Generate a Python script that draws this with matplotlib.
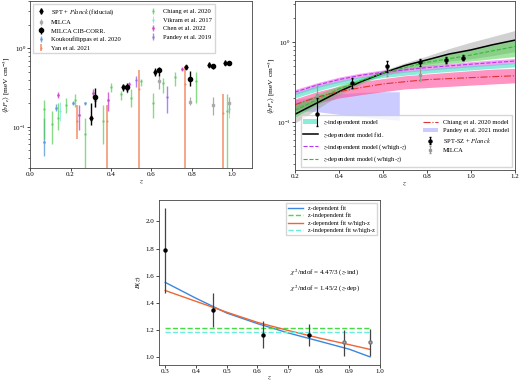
import numpy as np
import matplotlib
matplotlib.use("Agg")
import matplotlib.pyplot as plt

plt.rcParams.update({
    'font.family': 'serif',
    'font.serif': ['Liberation Serif', 'DejaVu Serif'],
    'mathtext.fontset': 'stix',
    'font.size': 5,
    'axes.linewidth': 0.6,
    'axes.edgecolor': '#444444',
    'xtick.major.width': 0.5, 'ytick.major.width': 0.5,
    'xtick.minor.width': 0.4, 'ytick.minor.width': 0.4,
    'xtick.major.size': 2, 'ytick.major.size': 2,
    'xtick.minor.size': 1.2, 'ytick.minor.size': 1.2,
    'xtick.labelsize': 5, 'ytick.labelsize': 5,
    'axes.labelsize': 5.3,
    'legend.fontsize': 4.7,
})

# ---------------- top-left data ----------------
spt_z = [0.30, 0.46, 0.62, 0.77, 0.885, 0.965]
spt_y = [0.13, 0.32, 0.50, 0.58, 0.62, 0.66]
spt_lo = [0.105, 0.29, 0.45, 0.55, 0.59, 0.62]
spt_hi = [0.20, 0.35, 0.56, 0.62, 0.67, 0.71]

mcib_z = [0.32, 0.48, 0.64, 0.79, 0.905, 0.985]
mcib_y = [0.24, 0.32, 0.53, 0.41, 0.59, 0.66]
mcib_lo = [0.18, 0.28, 0.45, 0.33, 0.55, 0.62]
mcib_hi = [0.31, 0.36, 0.58, 0.51, 0.63, 0.70]

milca_z = [0.32, 0.48, 0.64, 0.79, 0.905, 0.985]
milca_y = [0.22, 0.30, 0.38, 0.21, 0.19, 0.20]
milca_lo = [0.18, 0.27, 0.30, 0.19, 0.14, 0.15]
milca_hi = [0.27, 0.34, 0.44, 0.24, 0.24, 0.24]

kouk_z = [0.07, 0.13, 0.21, 0.27]
kouk_y = [0.064, 0.176, 0.20, 0.20]
kouk_lo = [0.043, 0.16, 0.19, 0.19]
kouk_hi = [0.13, 0.195, 0.215, 0.21]

yan_z = [0.23, 0.38, 0.54, 0.765, 0.955]
yan_y = [0.12, 0.12, 0.30, 0.35, 0.15]
yan_lo = [0.07, 0.005, 0.005, 0.005, 0.005]
yan_hi = [0.19, 0.19, 0.53, 0.60, 0.26]

chiang_z = [0.07, 0.11, 0.14, 0.18, 0.22, 0.27, 0.36, 0.40, 0.45, 0.50, 0.55, 0.61, 0.66, 0.72, 0.82, 0.975]
chiang_y = [0.17, 0.11, 0.13, 0.19, 0.22, 0.08, 0.12, 0.32, 0.26, 0.23, 0.38, 0.20, 0.36, 0.43, 0.38, 0.16]
chiang_lo = [0.07, 0.06, 0.09, 0.15, 0.18, 0.005, 0.06, 0.28, 0.22, 0.18, 0.33, 0.13, 0.27, 0.33, 0.20, 0.005]
chiang_hi = [0.22, 0.16, 0.20, 0.23, 0.26, 0.13, 0.19, 0.36, 0.29, 0.30, 0.41, 0.27, 0.42, 0.50, 0.50, 0.26]

vikram_z = [0.15, 0.985]
vikram_y = [0.16, 0.17]
vikram_lo = [0.12, 0.13]
vikram_hi = [0.21, 0.21]

chen_z = [0.14, 0.24, 0.31, 0.385, 0.49, 0.75]
chen_y = [0.255, 0.14, 0.27, 0.22, 0.35, 0.55]
chen_lo = [0.23, 0.09, 0.24, 0.16, 0.33, 0.52]
chen_hi = [0.28, 0.19, 0.30, 0.28, 0.37, 0.58]

pandey_z = [0.525, 0.68]
pandey_y = [0.40, 0.24]
pandey_lo = [0.32, 0.15]
pandey_hi = [0.45, 0.33]

# ---------------- top-right data ----------------
rspt_y = [0.125, 0.31, 0.50, 0.56, 0.60, 0.64]
rspt_lo = [0.09, 0.27, 0.42, 0.50, 0.55, 0.59]
rspt_hi = [0.20, 0.36, 0.58, 0.62, 0.66, 0.70]
rmilca_y = [0.22, 0.30, 0.47, 0.39, 0.58, 0.62]
rmilca_lo = [0.16, 0.26, 0.38, 0.33, 0.54, 0.58]
rmilca_hi = [0.29, 0.35, 0.58, 0.47, 0.63, 0.67]

zm = [0.2, 0.3, 0.4, 0.5, 0.6, 0.7, 0.8, 0.9, 1.0, 1.1, 1.2]
zdep = [0.125, 0.173, 0.24, 0.32, 0.41, 0.51, 0.60, 0.71, 0.80, 0.93, 1.06]
zdep_lo = [0.097, 0.145, 0.215, 0.30, 0.39, 0.47, 0.53, 0.58, 0.62, 0.68, 0.76]
zdep_hi = [0.155, 0.20, 0.265, 0.345, 0.44, 0.55, 0.67, 0.83, 1.00, 1.18, 1.40]
zdephz = [0.14, 0.19, 0.26, 0.33, 0.41, 0.48, 0.56, 0.62, 0.69, 0.78, 0.88]
zdephz_lo = [0.115, 0.165, 0.235, 0.31, 0.38, 0.44, 0.50, 0.54, 0.58, 0.62, 0.66]
zdephz_hi = [0.17, 0.22, 0.285, 0.355, 0.44, 0.52, 0.62, 0.72, 0.82, 0.94, 1.07]
zindhz = [0.237, 0.29, 0.34, 0.385, 0.42, 0.45, 0.48, 0.505, 0.53, 0.555, 0.58]
zindhz_lo = [0.22, 0.27, 0.315, 0.36, 0.39, 0.42, 0.445, 0.47, 0.49, 0.515, 0.54]
zindhz_hi = [0.255, 0.31, 0.365, 0.41, 0.45, 0.48, 0.515, 0.54, 0.57, 0.60, 0.625]
zind_lo = [0.20, 0.245, 0.29, 0.33, 0.36, 0.385, 0.41, 0.43, 0.45, 0.47, 0.49]
zind_hi = [0.232, 0.285, 0.33, 0.37, 0.40, 0.435, 0.465, 0.49, 0.51, 0.53, 0.55]
chm = [0.165, 0.205, 0.24, 0.27, 0.30, 0.32, 0.34, 0.35, 0.36, 0.37, 0.38]
chm_lo = [0.14, 0.17, 0.20, 0.22, 0.24, 0.26, 0.27, 0.28, 0.29, 0.30, 0.31]
chm_hi = [0.195, 0.24, 0.28, 0.32, 0.35, 0.38, 0.40, 0.42, 0.44, 0.46, 0.47]
pm_z = [0.2, 0.3, 0.4, 0.5, 0.6, 0.675]
pm_lo = [0.14, 0.135, 0.125, 0.117, 0.11, 0.105]
pm_hi = [0.19, 0.21, 0.225, 0.235, 0.24, 0.24]

# ---------------- bottom data ----------------
b_z = [0.30, 0.457, 0.62, 0.767, 0.883, 0.966]
b_y = [1.786, 1.348, 1.165, 1.16, 1.11, 1.112]
b_lo = [1.474, 1.22, 1.063, 1.08, 1.007, 1.01]
b_hi = [2.097, 1.47, 1.268, 1.24, 1.20, 1.207]
fit_z = [0.3, 0.4, 0.5, 0.6, 0.7, 0.8, 0.9, 0.967]
fit_zdep = [1.55, 1.433, 1.324, 1.246, 1.177, 1.117, 1.056, 1.0]
fit_zdephz = [1.49, 1.41, 1.33, 1.255, 1.195, 1.14, 1.09, 1.055]
fit_zind = 1.21
fit_zindhz = 1.18


def yerr(y, lo, hi):
    y = np.asarray(y); return [y - np.asarray(lo), np.asarray(hi) - y]


fig = plt.figure(figsize=(5.2, 3.85), dpi=100)

# ---------- top-left ----------
ax1 = fig.add_axes([0.058, 0.564, 0.427, 0.433])
ax1.set_yscale('log')
ax1.errorbar(spt_z, spt_y, yerr=yerr(spt_y, spt_lo, spt_hi), fmt='d', color='k', ms=2.5,
             elinewidth=1.0, capsize=0, zorder=6, label=r'SPT + $\it{Planck}$ (fiducial)')
ax1.errorbar(milca_z, milca_y, yerr=yerr(milca_y, milca_lo, milca_hi), fmt='s', color='#aaaaaa',
             mfc='none', ms=2, elinewidth=0.9, capsize=0, zorder=4, label='MILCA')
ax1.errorbar(mcib_z, mcib_y, yerr=yerr(mcib_y, mcib_lo, mcib_hi), fmt='o', color='k', ms=3,
             elinewidth=1.0, capsize=0, zorder=5, label='MILCA CIB-CORR.')
ax1.errorbar(kouk_z, kouk_y, yerr=yerr(kouk_y, kouk_lo, kouk_hi), fmt='.', color='#5b9bd5', ms=2,
             elinewidth=1.0, capsize=0, alpha=0.8, label='Koukoufilippas et al. 2020')
ax1.errorbar(yan_z, yan_y, yerr=yerr(yan_y, yan_lo, yan_hi), fmt='.', color='#f07d50', ms=1,
             elinewidth=1.2, capsize=0, alpha=0.8, label='Yan et al. 2021')
ax1.errorbar(chiang_z, chiang_y, yerr=yerr(chiang_y, chiang_lo, chiang_hi), fmt='.', color='#55cc55',
             ms=1.5, elinewidth=1.0, capsize=0, alpha=0.7, label='Chiang et al. 2020')
ax1.errorbar(vikram_z, vikram_y, yerr=yerr(vikram_y, vikram_lo, vikram_hi), fmt='.', color='#7fe8d8',
             ms=1.5, elinewidth=0.7, capsize=0, alpha=0.8, label='Vikram et al. 2017')
ax1.errorbar(chen_z, chen_y, yerr=yerr(chen_y, chen_lo, chen_hi), fmt='.', color='#cc44cc',
             ms=2, elinewidth=1.0, capsize=0, alpha=0.8, label='Chen et al. 2022')
ax1.errorbar(pandey_z, pandey_y, yerr=yerr(pandey_y, pandey_lo, pandey_hi), fmt='.', color='#9966ee',
             ms=1.5, elinewidth=1.0, capsize=0, alpha=0.8, label='Pandey et al. 2019')
ax1.set_xlim(0, 1.1)
ax1.set_ylim(0.03, 4)
ax1.set_xticks([0.0, 0.2, 0.4, 0.6, 0.8, 1.0])
ax1.set_xlabel('$z$', labelpad=1)
ax1.set_ylabel(r'$\langle bP_e\rangle$ [meV cm$^{-3}$]', labelpad=0)
ax1.tick_params(pad=1.0)
ax1.legend(loc='upper left', ncol=2, frameon=True, borderpad=0.4, labelspacing=0.45,
           handlelength=1.5, columnspacing=4.2, fancybox=False, edgecolor='#cccccc')

# ---------- top-right ----------
ax2 = fig.add_axes([0.567, 0.558, 0.423, 0.44])
ax2.set_yscale('log')
ax2.fill_between(pm_z, pm_lo, pm_hi, color='#9999ff', alpha=0.5, lw=0, label='Pandey et al. 2021 model')
ax2.fill_between(zm, chm_lo, chm_hi, color='#ff4d9a', alpha=0.6, lw=0)
ax2.fill_between(zm, zdep_lo, zdep_hi, color='#999999', alpha=0.45, lw=0)
ax2.fill_between(zm, zdephz_lo, zdephz_hi, color='#44cc44', alpha=0.5, lw=0)
ax2.fill_between(zm, zindhz_lo, zindhz_hi, color='#ee66ee', alpha=0.6, lw=0)
ax2.fill_between(zm, zind_lo, zind_hi, color='#40e0c0', alpha=0.6, lw=0, label='$z$-independent model')
ax2.plot(zm, zdep, color='k', lw=1.1, label='$z$-dependent model fid.')
ax2.plot(zm, zindhz, color='#bb33ee', lw=0.8, ls='--', label='$z$-independent model (w/high-$z$)')
ax2.plot(zm, zdephz, color='#33bb33', lw=0.8, ls='--', label='$z$-dependent model (w/high-$z$)')
ax2.plot(zm, chm, color='#dd3333', lw=0.8, ls='-.', label='Chiang et al. 2020 model')
ax2.errorbar(spt_z, rspt_y, yerr=yerr(rspt_y, rspt_lo, rspt_hi), fmt='o', color='k', ms=2.2,
             elinewidth=0.8, capsize=1.0, zorder=6, label=r'SPT-SZ + $\it{Planck}$')
ax2.errorbar(spt_z, rmilca_y, yerr=yerr(rmilca_y, rmilca_lo, rmilca_hi), fmt='s', color='#999999',
             mfc='none', ms=2, elinewidth=0.8, capsize=1.0, zorder=5, label='MILCA')
ax2.set_xlim(0.2, 1.2)
ax2.set_ylim(0.025, 3.3)
ax2.set_xticks([0.2, 0.4, 0.6, 0.8, 1.0, 1.2])
ax2.set_xlabel('$z$', labelpad=1)
ax2.set_ylabel(r'$\langle bP_e\rangle$ [meV cm$^{-3}$]', labelpad=0)
ax2.tick_params(pad=1.0)
h, l = ax2.get_legend_handles_labels()
order = ['$z$-independent model', '$z$-dependent model fid.', '$z$-independent model (w/high-$z$)',
         '$z$-dependent model (w/high-$z$)', 'Chiang et al. 2020 model', 'Pandey et al. 2021 model',
         r'SPT-SZ + $\it{Planck}$', 'MILCA']
hd = dict(zip(l, h))
ax2.legend([hd[k] for k in order], order, loc='lower right', ncol=2, frameon=True,
           borderpad=0.4, labelspacing=0.4, handlelength=2.2, columnspacing=2.4,
           fancybox=False, edgecolor='#cccccc', bbox_to_anchor=(1.0, 0.0))

# ---------- bottom ----------
ax3 = fig.add_axes([0.306, 0.052, 0.425, 0.429])
ax3.plot(fit_z, fit_zdep, color='#3a87e0', lw=1.0, label='z-dependent fit')
ax3.plot([fit_z[0], fit_z[-1]], [fit_zind, fit_zind], color='#44dd44', lw=1.0, ls='--',
         label='z-independent fit')
ax3.plot(fit_z, fit_zdephz, color='#ee6633', lw=1.0, label='z-dependent fit w/high-z')
ax3.plot([fit_z[0], fit_z[-1]], [fit_zindhz, fit_zindhz], color='#66eedd', lw=1.0, ls='--',
         label='z-independent fit w/high-z')
ax3.errorbar(b_z[:4], b_y[:4], yerr=yerr(b_y[:4], b_lo[:4], b_hi[:4]), fmt='o', color='k',
             ecolor='#444444', ms=2.2, elinewidth=0.9, capsize=0, zorder=5)
ax3.errorbar(b_z[4:], b_y[4:], yerr=yerr(b_y[4:], b_lo[4:], b_hi[4:]), fmt='o', color='#777777',
             mfc='#aaaaaa', ecolor='#444444', ms=2.2, elinewidth=0.9, capsize=0, zorder=5)
ax3.set_xlim(0.28, 1.0)
ax3.set_ylim(0.94, 2.16)
ax3.set_xticks([0.3, 0.4, 0.5, 0.6, 0.7, 0.8, 0.9, 1.0])
ax3.set_yticks([1.0, 1.2, 1.4, 1.6, 1.8, 2.0])
ax3.set_xlabel('$z$', labelpad=0)
ax3.set_ylabel('$B(z)$', labelpad=2)
ax3.tick_params(pad=1.2)
ax3.text(0.706, 1.62, r'$\chi^2$/ndof = 4.47/3 ($z$-ind)', fontsize=5, va='center')
ax3.text(0.706, 1.50, r'$\chi^2$/ndof = 1.45/2 ($z$-dep)', fontsize=5, va='center')
ax3.legend(loc='upper right', frameon=True, fontsize=4.5, borderpad=0.35, labelspacing=0.3,
           handlelength=2.4, fancybox=False, edgecolor='#cccccc')

fig.savefig('out.png', dpi=100)
